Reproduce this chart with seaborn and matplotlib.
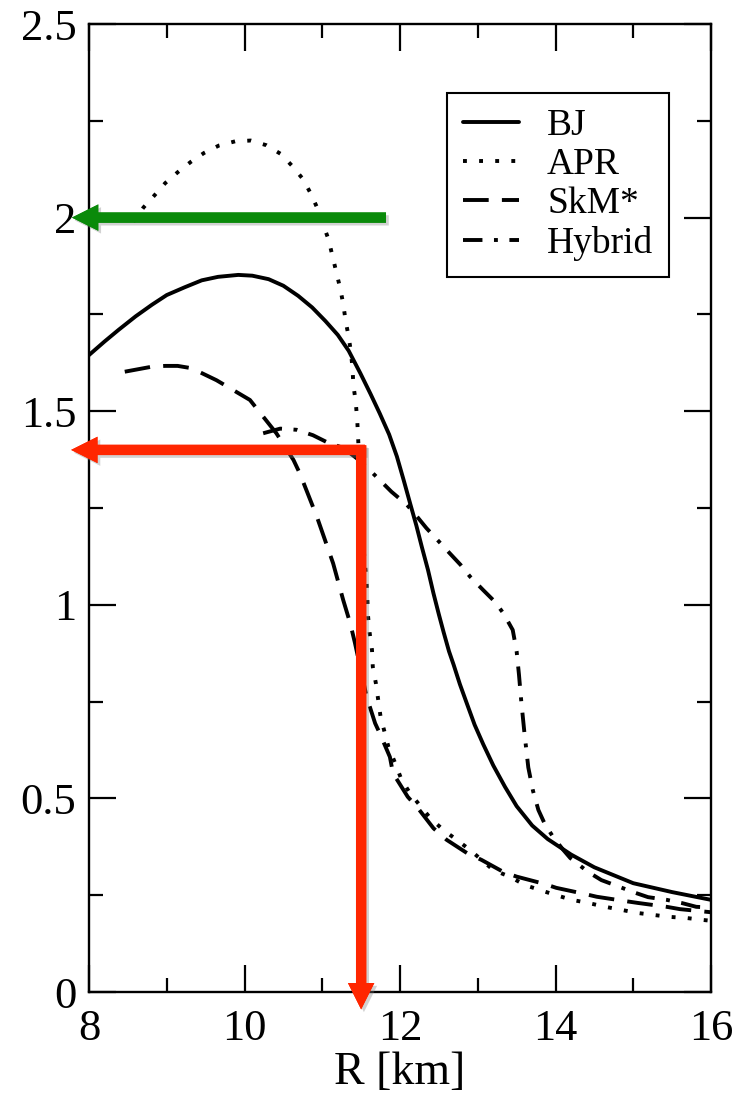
import matplotlib
matplotlib.use("Agg")
import matplotlib.pyplot as plt
import matplotlib.patheffects as pe
from matplotlib.ticker import MultipleLocator, FuncFormatter
import seaborn as sns
import pandas as pd

# ---------------- data ----------------
bj_r = [8.0, 8.2, 8.38, 8.6, 8.81, 9.0, 9.23, 9.45, 9.66, 9.92, 10.1, 10.31, 10.5, 10.69,
        10.87, 11.04, 11.2, 11.34, 11.49, 11.62, 11.74, 11.86, 11.96, 12.05, 12.13, 12.21,
        12.28, 12.36, 12.43, 12.5, 12.56, 12.63, 12.69, 12.77, 12.86, 12.96, 13.07, 13.2,
        13.35, 13.5, 13.7, 13.9, 14.2, 14.5, 15.0, 15.5, 16.0]
bj_m = [1.645, 1.68, 1.71, 1.745, 1.775, 1.80, 1.82, 1.838, 1.847, 1.852, 1.850, 1.841,
        1.824, 1.798, 1.768, 1.733, 1.697, 1.656, 1.598, 1.545, 1.494, 1.44, 1.383, 1.32,
        1.262, 1.205, 1.15, 1.09, 1.03, 0.975, 0.93, 0.88, 0.845, 0.795, 0.745, 0.69,
        0.64, 0.585, 0.53, 0.48, 0.43, 0.395, 0.355, 0.322, 0.281, 0.258, 0.238]

apr_r = [8.57, 8.70, 8.84, 8.98, 9.14, 9.31, 9.48, 9.67, 9.88, 10.08, 10.28, 10.47, 10.61,
         10.75, 10.85, 10.94, 11.01, 11.08, 11.13, 11.18, 11.23, 11.27, 11.30, 11.34, 11.37,
         11.39, 11.40, 11.43, 11.45, 11.46, 11.48, 11.50, 11.53, 11.57, 11.59, 11.61, 11.64,
         11.65, 11.69, 11.72, 11.75, 11.85, 11.94, 12.02, 12.13, 12.39, 12.56, 12.73, 12.9,
         13.2, 13.41, 13.61, 13.82, 14.01, 14.21, 14.42, 14.64, 14.85, 15.06, 15.26, 15.47,
         15.69, 15.9, 16.0]
apr_m = [1.989, 2.026, 2.057, 2.089, 2.117, 2.144, 2.167, 2.186, 2.197, 2.199, 2.187, 2.164,
         2.134, 2.10, 2.063, 2.023, 1.983, 1.944, 1.902, 1.86, 1.818, 1.777, 1.734, 1.692,
         1.651, 1.608, 1.568, 1.525, 1.477, 1.436, 1.35, 1.25, 1.15, 1.06, 0.969, 0.927,
         0.883, 0.84, 0.797, 0.754, 0.711, 0.634, 0.59, 0.548, 0.513, 0.449, 0.418, 0.393,
         0.367, 0.315, 0.298, 0.276, 0.262, 0.25, 0.238, 0.23, 0.22, 0.212, 0.204, 0.199,
         0.194, 0.191, 0.186, 0.184]

skm_r = [8.46, 8.81, 8.98, 9.14, 9.32, 9.64, 10.07, 10.41, 10.63, 10.71, 10.93, 11.14,
         11.27, 11.36, 11.42, 11.57, 11.68, 11.74, 11.87, 11.91, 12.1, 12.23, 12.43, 12.6,
         12.86, 13.05, 13.33, 13.5, 13.86, 14.01, 14.38, 14.53, 14.89, 15.06, 15.43, 15.6,
         15.95, 16.0]
skm_m = [1.602, 1.615, 1.617, 1.617, 1.611, 1.58, 1.529, 1.443, 1.374, 1.34, 1.228, 1.107,
         1.012, 0.952, 0.902, 0.763, 0.694, 0.668, 0.607, 0.565, 0.504, 0.475, 0.423, 0.393,
         0.359, 0.341, 0.31, 0.298, 0.279, 0.269, 0.253, 0.246, 0.235, 0.23, 0.22, 0.214,
         0.207, 0.206]

hyb_r = [10.24, 10.46, 10.67, 10.88, 11.06, 11.27, 11.44, 11.57, 11.74, 11.89, 12.09, 12.21,
         12.34, 12.47, 12.64, 12.78, 12.9, 13.07, 13.22, 13.33, 13.45, 13.5, 13.53, 13.56,
         13.6, 13.65, 13.71, 13.78, 13.86, 13.97, 14.1, 14.19, 14.42, 14.59, 14.83, 15.0,
         15.19, 15.43, 15.62, 15.81, 16.0]
hyb_m = [1.443, 1.455, 1.452, 1.438, 1.42, 1.405, 1.379, 1.356, 1.322, 1.292, 1.258, 1.23,
         1.198, 1.17, 1.133, 1.103, 1.073, 1.038, 1.008, 0.978, 0.935, 0.88, 0.82, 0.75,
         0.67, 0.58, 0.52, 0.47, 0.435, 0.40, 0.367, 0.346, 0.31, 0.289, 0.271, 0.258,
         0.245, 0.238, 0.23, 0.22, 0.218]

labels = ["BJ", "APR", "SkM*", "Hybrid"]

# annotation arrows: (mass limit, radius)
green_mass = 2.0
green_tail_r = 11.82
red_mass = 1.4
red_radius = 11.5

# ---------------- style ----------------
sns.set_style("ticks")
plt.rcParams["font.family"] = ["Liberation Serif", "DejaVu Serif"]
plt.rcParams["lines.scale_dashes"] = False
plt.rcParams["text.color"] = "black"
plt.rcParams["axes.labelcolor"] = "black"
plt.rcParams["xtick.color"] = "black"
plt.rcParams["ytick.color"] = "black"
plt.rcParams["xtick.labelcolor"] = "black"
plt.rcParams["ytick.labelcolor"] = "black"

fig = plt.figure(figsize=(7.48, 10.96), dpi=100)
ax = fig.add_axes([89 / 748, 1 - 992 / 1096, 622 / 748, 968 / 1096])

LW = 2.8
series = [
    (bj_r, bj_m, labels[0], "-"),
    (apr_r, apr_m, labels[1], (0, (LW, 8.8))),
    (skm_r, skm_m, labels[2], (0, (18.5, 9.5))),
    (hyb_r, hyb_m, labels[3], (0, (14, 8.3, LW, 8.3))),
]
for r, m, lab, ls in series:
    df = pd.DataFrame({"R": r, "M": m})
    sns.lineplot(data=df, x="R", y="M", ax=ax, sort=False, estimator=None,
                 color="black", linewidth=LW, linestyle=ls, label=lab)

ax.set_xlim(8, 16)
ax.set_ylim(0, 2.5)
ax.xaxis.set_major_locator(MultipleLocator(2))
ax.xaxis.set_minor_locator(MultipleLocator(1))
ax.yaxis.set_major_locator(MultipleLocator(0.5))
ax.yaxis.set_minor_locator(MultipleLocator(0.25))
ax.yaxis.set_major_formatter(FuncFormatter(lambda v, p: f"{v:g}"))
ax.xaxis.set_major_formatter(FuncFormatter(lambda v, p: f"{v:g}"))

ax.tick_params(which="both", direction="in", top=True, right=True, width=1.6,
               colors="black", labelcolor="black")
ax.tick_params(which="major", length=19.5, labelsize=32)
ax.tick_params(which="minor", length=10)
ax.tick_params(axis="x", which="major", pad=12)
ax.tick_params(axis="y", which="major", pad=9)
for s in ax.spines.values():
    s.set_linewidth(1.7)
    s.set_color("black")
    s.set_visible(True)

ax.set_xlabel("R [km]", fontsize=33, labelpad=2, color="black")
ax.set_ylabel("")

leg = ax.legend(loc="upper right", bbox_to_anchor=(0.9325, 0.9287), fontsize=27,
                frameon=True, fancybox=False, edgecolor="black", framealpha=1,
                handlelength=1.5, handletextpad=0.75, labelspacing=0.12,
                borderpad=0.42, borderaxespad=0)
leg.get_frame().set_linewidth(1.5)
for t in leg.get_texts():
    t.set_color("black")

shadow = [pe.withSimplePatchShadow(offset=(2, -2), shadow_rgbFace="gray", alpha=0.35),
          pe.Normal()]
arrow_kw = dict(arrowstyle="simple,head_length=0.95,head_width=0.95,tail_width=0.37",
                mutation_scale=20, shrinkA=0, shrinkB=0, lw=0)

ax.annotate("", xy=(7.78, green_mass), xytext=(green_tail_r, green_mass),
            xycoords="data", annotation_clip=False,
            arrowprops=dict(color="#0A8A0A", path_effects=shadow, **arrow_kw))
ax.annotate("", xy=(7.77, red_mass), xytext=(red_radius + 0.05, red_mass),
            xycoords="data", annotation_clip=False,
            arrowprops=dict(color="#FF2600", path_effects=shadow, **arrow_kw))
ax.annotate("", xy=(red_radius, -0.045), xytext=(red_radius, red_mass + 0.012),
            xycoords="data", annotation_clip=False,
            arrowprops=dict(color="#FF2600", path_effects=shadow, **arrow_kw))

fig.savefig("out.png", dpi=100)
